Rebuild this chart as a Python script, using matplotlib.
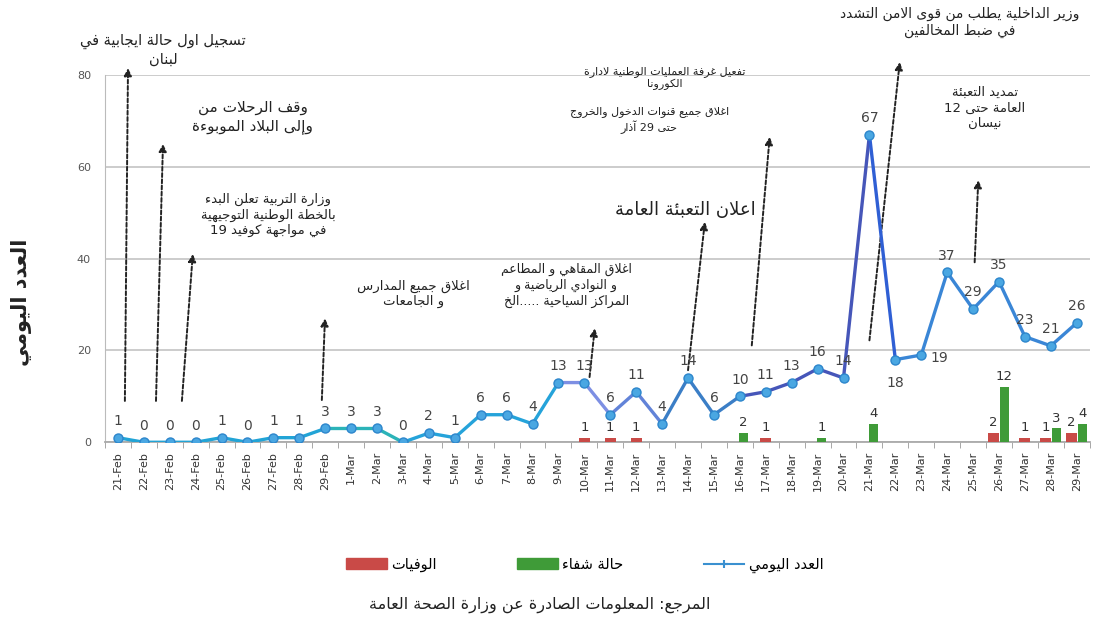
import re
import numpy as np
import matplotlib
matplotlib.use('Agg')
import matplotlib.pyplot as plt
from matplotlib.patches import Patch
from matplotlib.lines import Line2D

# ---- data ----
dates = (['%d-Feb' % d for d in range(21, 30)] +
         ['%d-Mar' % d for d in range(1, 30)])
daily = [1, 0, 0, 0, 1, 0, 1, 1, 3,
         3, 3, 0, 2, 1, 6, 6, 4, 13, 13, 6, 11, 4, 14, 6, 10, 11, 13, 16, 14,
         67, 18, 19, 37, 29, 35, 23, 21, 26]
deaths = {'10-Mar': 1, '11-Mar': 1, '12-Mar': 1, '17-Mar': 1,
          '26-Mar': 2, '27-Mar': 1, '28-Mar': 1, '29-Mar': 2}
recovered = {'16-Mar': 2, '19-Mar': 1, '21-Mar': 4,
             '26-Mar': 12, '28-Mar': 3, '29-Mar': 4}

ylabel = 'العدد اليومي'
legend_labels = ['الوفيات', 'حالة شفاء', 'العدد اليومي']
source = 'المرجع: المعلومات الصادرة عن وزارة الصحة العامة'

# events: text, text position, arrow bottom, arrow tip (x as day index), font size
events = [
    ('تسجيل اول حالة ايجابية في\nلبنان', (1.74, 85.4), (0.27, 9), (0.39, 81.5), 10.5),
    ('وقف الرحلات من\nوإلى البلاد الموبوءة', (5.2, 70.8), (1.47, 9), (1.74, 65), 11),
    ('وزارة التربية تعلن البدء\nبالخطة الوطنية التوجيهية\nفي مواجهة كوفيد 19',
     (5.79, 49.5), (2.47, 9), (2.89, 41), 9.5),
    ('اغلاق جميع المدارس\nو الجامعات', (11.4, 32.3), (7.87, 9.2), (7.99, 27), 9.5),
    ('اغلاق المقاهي و المطاعم\nو النوادي الرياضية و\nالمراكز السياحية .....الخ',
     (17.3, 34.2), (18.2, 14.2), (18.4, 24.8), 9),
    ('اعلان التعبئة العامة', (21.9, 50.6), (22.0, 15.7), (22.65, 48), 13),
    ('تفعيل غرفة العمليات الوطنية لادارة\nالكورونا', (21.1, 79.3),
     (24.46, 21.1), (25.15, 66.5), 8),
    ('اغلاق جميع قنوات الدخول والخروج\nحتى 29 آذار', (20.5, 70.2), None, None, 8),
    ('وزير الداخلية يطلب من قوى الامن التشدد\nفي ضبط المخالفين', (32.5, 91.5),
     (29.0, 22.2), (30.17, 82.8), 10),
    ('تمديد التعبئة\nالعامة حتى 12\nنيسان', (33.45, 72.8), (33.06, 39.2), (33.2, 57.1), 9.5),
]

# ---- minimal arabic shaping (presentation forms + right-to-left order) ----
FORMS = {'ء': (0xFE80, 1), 'آ': (0xFE81, 2), 'أ': (0xFE83, 2), 'ؤ': (0xFE85, 2),
         'إ': (0xFE87, 2), 'ئ': (0xFE89, 4), 'ا': (0xFE8D, 2), 'ب': (0xFE8F, 4),
         'ة': (0xFE93, 2), 'ت': (0xFE95, 4), 'ث': (0xFE99, 4), 'ج': (0xFE9D, 4),
         'ح': (0xFEA1, 4), 'خ': (0xFEA5, 4), 'د': (0xFEA9, 2), 'ذ': (0xFEAB, 2),
         'ر': (0xFEAD, 2), 'ز': (0xFEAF, 2), 'س': (0xFEB1, 4), 'ش': (0xFEB5, 4),
         'ص': (0xFEB9, 4), 'ض': (0xFEBD, 4), 'ط': (0xFEC1, 4), 'ظ': (0xFEC5, 4),
         'ع': (0xFEC9, 4), 'غ': (0xFECD, 4), 'ف': (0xFED1, 4), 'ق': (0xFED5, 4),
         'ك': (0xFED9, 4), 'ل': (0xFEDD, 4), 'م': (0xFEE1, 4), 'ن': (0xFEE5, 4),
         'ه': (0xFEE9, 4), 'و': (0xFEED, 2), 'ى': (0xFEEF, 2), 'ي': (0xFEF1, 4)}
LAM_ALEF = {'آ': 0xFEF5, 'أ': 0xFEF7, 'إ': 0xFEF9, 'ا': 0xFEFB}


def shape(text):
    lines = []
    for line in text.split('\n'):
        toks = []
        i = 0
        while i < len(line):
            if line[i] == 'ل' and i + 1 < len(line) and line[i + 1] in LAM_ALEF:
                toks.append(('LA', line[i + 1]))
                i += 2
            else:
                toks.append(line[i])
                i += 1
        out = []
        for k, t in enumerate(toks):
            prev = toks[k - 1] if k > 0 else None
            nxt = toks[k + 1] if k + 1 < len(toks) else None
            jp = isinstance(prev, str) and prev in FORMS and FORMS[prev][1] == 4
            if isinstance(t, tuple):
                out.append(chr(LAM_ALEF[t[1]] + (1 if jp else 0)))
            elif t in FORMS:
                base, n = FORMS[t]
                jn = n == 4 and nxt is not None and (isinstance(nxt, tuple) or nxt in FORMS)
                if jp and jn:
                    out.append(chr(base + 3))
                elif jp and n > 1:
                    out.append(chr(base + 1))
                elif jn:
                    out.append(chr(base + 2))
                else:
                    out.append(chr(base))
            else:
                out.append(t)
        vis = ''.join(out)[::-1]
        vis = re.sub(r'[0-9A-Za-z]+', lambda m: m.group(0)[::-1], vis)
        lines.append(vis)
    return '\n'.join(lines)


plt.rcParams['font.family'] = ['DejaVu Sans']

fig = plt.figure(figsize=(10.93, 6.3), dpi=100)
ax = fig.add_axes([0.096, 0.298, 0.901, 0.583])

x = np.arange(len(dates))
d = np.array([deaths.get(t, 0) for t in dates])
r = np.array([recovered.get(t, 0) for t in dates])
both = (d > 0) & (r > 0)
w = 0.42
dx = np.where(both, x - w / 2, x)
rx = np.where(both, x + w / 2, x + 0.15)

ax.bar(dx[d > 0], d[d > 0], width=w, color='#c94a47', zorder=3)
ax.bar(rx[r > 0], r[r > 0], width=w * 0.8, color='#3f9b38', zorder=3)
for xi, v in zip(dx[d > 0], d[d > 0]):
    ax.text(xi, v + 0.8, str(v), ha='center', va='bottom', fontsize=9.5, color='#333')
for xi, v in zip(rx[r > 0], r[r > 0]):
    ax.text(xi, v + 0.8, str(v), ha='center', va='bottom', fontsize=9.5, color='#333')

# line, coloured in stretches like the original
stretches = [(0, 8, '#22a4d6'), (8, 11, '#2bb3b8'), (11, 17, '#25a3da'),
             (17, 19, '#7d8fe3'), (19, 21, '#6283d8'), (21, 24, '#3b7ec6'),
             (24, 29, '#4656b9'), (29, 30, '#2f5fd4'), (30, 37, '#3a86d6')]
for a, b, c in stretches:
    ax.plot(x[a:b + 1], daily[a:b + 1], color=c, lw=2.4, zorder=4,
            solid_capstyle='round')
ax.plot(x, daily, ls='none', marker='o', ms=6.5, mfc='#4aa7e2', mec='#2d86cc',
        mew=1, zorder=5)

label_shift = {30: (0, -17), 31: (13, -2)}
for xi, v in zip(x, daily):
    ox, oy = label_shift.get(xi, (0, 7))
    ax.annotate(str(v), (xi, v), xytext=(ox, oy), textcoords='offset points',
                ha='center', va='bottom' if oy > 0 else 'center',
                fontsize=10, color='#444', zorder=6)

for txt, pos, bot, tip, fs in events:
    ax.text(pos[0], pos[1], shape(txt), ha='center', va='center', fontsize=fs,
            color='#222', multialignment='center', linespacing=1.25, clip_on=False)
    if bot is not None:
        ax.annotate('', xy=tip, xytext=bot, annotation_clip=False,
                    arrowprops=dict(arrowstyle='-|>', ls=(0, (2, 1.2)), lw=1.4,
                                    color='#222', mutation_scale=11,
                                    shrinkA=0, shrinkB=0))

ax.set_xlim(-0.5, len(dates) - 0.5)
ax.set_ylim(0, 80)
ax.set_yticks([0, 20, 40, 60, 80])
ax.tick_params(axis='y', length=0, labelsize=8, labelcolor='#555', pad=10)
ax.set_xticks(x)
ax.set_xticklabels(dates, rotation=90, fontsize=8, color='#333')
ax.set_xticks(np.arange(-0.5, len(dates), 1), minor=True)
ax.tick_params(axis='x', which='major', length=0, pad=7)
ax.tick_params(axis='x', which='minor', length=4, color='#999')
ax.grid(axis='y', color='#c8c8c8', lw=1.3)
ax.set_axisbelow(True)
for s in ['top', 'right']:
    ax.spines[s].set_visible(False)
ax.spines['left'].set_color('#bbb')
ax.spines['bottom'].set_color('#aaa')
ax.spines['bottom'].set_linewidth(1.3)

fig.text(0.02, 0.52, shape(ylabel), rotation=90, ha='center', va='center',
         fontsize=15, fontweight='bold', color='#222')

handles = [Patch(color='#c94a47'), Patch(color='#3f9b38'),
           Line2D([], [], color='#3a90d0', lw=1.5, marker='+', ms=6, mew=1.5)]
fig.legend(handles, [shape(t) for t in legend_labels], loc='center',
           bbox_to_anchor=(0.535, 0.103), ncol=3, frameon=False, fontsize=10.5,
           columnspacing=5.5, handlelength=2.8, handleheight=0.8, handletextpad=0.3)
fig.text(0.494, 0.04, shape(source), ha='center', va='center', fontsize=11.5,
         color='#222')

fig.savefig('out.png', dpi=100, facecolor='white')
